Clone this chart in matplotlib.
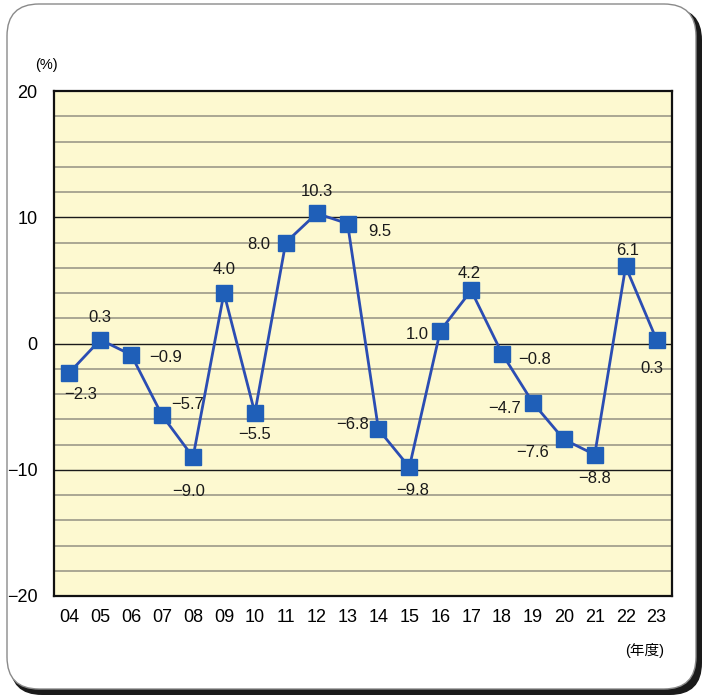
import matplotlib.pyplot as plt
from matplotlib.patches import FancyBboxPatch
from matplotlib import font_manager

years = ['04', '05', '06', '07', '08', '09', '10', '11', '12', '13',
         '14', '15', '16', '17', '18', '19', '20', '21', '22', '23']
values = [-2.3, 0.3, -0.9, -5.7, -9.0, 4.0, -5.5, 8.0, 10.3, 9.5,
          -6.8, -9.8, 1.0, 4.2, -0.8, -4.7, -7.6, -8.8, 6.1, 0.3]
# label offsets in pixels (dx, dy)
offsets = [(11, -22), (0, 22), (34, -3), (25, 11), (-4, -34), (0, 24),
           (0, -22), (-27, -2), (0, 22), (32, -8), (-26, 5), (3, -23),
           (-23, -4), (-2, 17), (33, -6), (-28, -6), (-31, -13), (0, -24),
           (2, 16), (-5, -29)]
yticks = [-20, -10, 0, 10, 20]

names = {f.name for f in font_manager.fontManager.ttflist}
num_font = 'Liberation Sans Narrow' if 'Liberation Sans Narrow' in names else 'Liberation Sans'
plt.rcParams['font.family'] = [num_font, 'Noto Sans CJK JP', 'DejaVu Sans']

W, H = 708, 697
fig = plt.figure(figsize=(W / 100, H / 100), dpi=100)

# framed card with shadow
px = fig.dpi_scale_trans
def box(x0, y0, x1, y1, **kw):
    return FancyBboxPatch((x0 / 100, (H - y1) / 100), (x1 - x0) / 100, (y1 - y0) / 100,
                          boxstyle='round,pad=0,rounding_size=0.32', transform=px, **kw)
fig.patches.append(box(10, 8, 702, 695, facecolor='#1a1a1a', edgecolor='none', zorder=0))
fig.patches.append(box(7, 4, 696, 689, facecolor='white', edgecolor='#8a8a8a', linewidth=1.0, zorder=1))

ax = fig.add_axes([54 / W, 1 - 596 / H, 618 / W, 505 / H], zorder=2)
ax.set_facecolor('#fdf9d0')

x = list(range(len(years)))
for g in range(-18, 20, 2):
    if g % 10 == 0:
        ax.axhline(g, color='#1a1a1a', linewidth=1.0, zorder=1)
    else:
        ax.axhline(g, color='#9c9a88', linewidth=1.2, zorder=1)

ax.plot(x, values, color='#2b4db3', linewidth=2.0, marker='s', markersize=11.5,
        markerfacecolor='#1f5fb8', markeredgecolor='#1f5fb8', zorder=3)

for xi, v, (dx, dy) in zip(x, values, offsets):
    ax.annotate(f'{v:.1f}'.replace('-', '\u2212'), (xi, v), xytext=(dx, dy),
                textcoords='offset pixels', ha='center', va='center',
                fontsize=12, color='#1a1a1a', zorder=4)

ax.set_xlim(-0.5, len(years) - 0.5)
ax.set_ylim(-20, 20)
ax.set_xticks(x)
ax.set_xticklabels(years, fontsize=13)
ax.set_yticks(yticks)
ax.set_yticklabels([str(t).replace('-', '\u2212') for t in yticks], fontsize=13)
ax.tick_params(length=0, pad=9)
ax.tick_params(axis='y', pad=12)
for s in ax.spines.values():
    s.set_color('#111111')
    s.set_linewidth(1.6)

fig.text(46 / W, 1 - 65 / H, '(%)', fontsize=10.5, ha='center', va='center', zorder=3)
fig.text(645 / W, 1 - 651 / H, '(年度)', fontsize=10.5, ha='center', va='center', zorder=3)

fig.savefig('out.png', dpi=100)
